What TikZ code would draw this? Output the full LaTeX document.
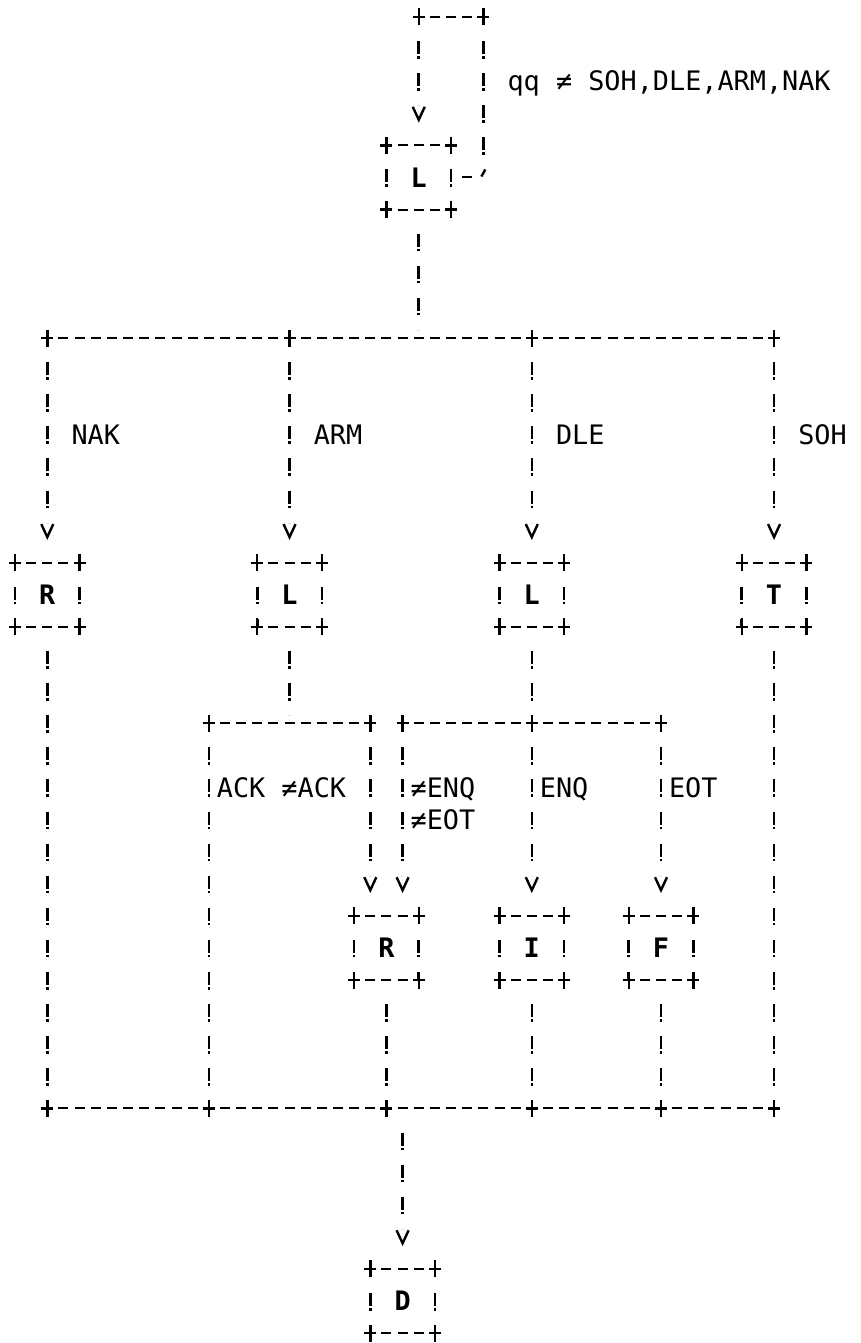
\documentclass[tikz,border=0pt]{standalone}
\usepackage{fontspec}
\newfontfamily\dmono{DejaVu Sans Mono}
\newcommand\lblfont{\dmono\fontsize{26.83pt}{30pt}\selectfont}
\tikzset{
  hline/.style={line width=2pt, dash pattern=on 10pt off 6.15pt, dash phase=10pt, shorten <=5pt},
  vline/.style={line width=2.6pt, dash pattern=on 13pt off 2pt on 2.5pt off 14.6pt, dash phase=17.5pt, shorten <=9.5pt},
  tobus/.style={vline, shorten >=8pt},
  arrowline/.style={vline, shorten >=40.1pt},
  box/.style={minimum width=64.6pt, minimum height=64.2pt, inner sep=0pt, outer sep=0pt, font=\lblfont\bfseries},
  lbl/.style={anchor=west, inner sep=0pt, outer sep=0pt, font=\lblfont, text height=19.5pt, text depth=0pt},
  plusmark/.pic={\draw[line width=2.4pt] (-6pt,0pt) -- (6pt,0pt) (0pt,-8.5pt) -- (0pt,8.5pt);},
  vhead/.pic={\draw[line width=2.4pt, line join=miter] (-6pt,6.5pt) -- (0pt,-6.5pt) -- (6pt,6.5pt);},
  tick/.style={line width=2.4pt}
}
\newcommand\asciiframe[1]{%
  \draw[hline] (#1.north west) -- (#1.north east);
  \draw[hline] (#1.south west) -- (#1.south east);
  \draw[vline] (#1.north west) -- (#1.south west);
  \draw[vline] (#1.north east) -- (#1.south east);
  \pic at (#1.north west) {plusmark};
  \pic at (#1.north east) {plusmark};
  \pic at (#1.south west) {plusmark};
  \pic at (#1.south east) {plusmark};
}
\begin{document}
\begin{tikzpicture}
\useasboundingbox (0pt,0pt) rectangle (861pt,-1343pt);
\begin{scope}[shift={(15pt,-17pt)}, x=16.15pt, y=-32.1pt]
% boxes
\node[box] (L1) at (25,5) {L};
\node[box] (R1) at (2,18) {R};
\node[box] (L2) at (17,18) {L};
\node[box] (L3) at (32,18) {L};
\node[box] (T1) at (47,18) {T};
\node[box] (R2) at (23,29) {R};
\node[box] (I1) at (32,29) {I};
\node[box] (F1) at (40,29) {F};
\node[box] (D1) at (24,40) {D};
\foreach \b in {L1,R1,L2,L3,T1,R2,I1,F1,D1}{\asciiframe{\b}}

% loop at the top
\coordinate (lp3) at (25,0);
\coordinate (lp2) at (29,0);
\coordinate (lp1) at (29,5);
\draw[hline] (lp3) -- (lp2);
\draw[arrowline] (lp3) -- (L1.north);
\draw[tobus] (lp2) -- (lp1);
\draw[hline, shorten >=11.15pt] (L1.east) -- (lp1);
\draw[tick] ([xshift=-2pt,yshift=1pt]lp1) -- ([xshift=2pt,yshift=8pt]lp1);
\pic at (lp3) {plusmark};
\pic at (lp2) {plusmark};
\node[lbl] (cond) at (30.5,2) {qq ≠ SOH,DLE,ARM,NAK};

% first bus
\coordinate (j0) at (25,10);
\coordinate (bn) at (2,10);
\coordinate (ba) at (17,10);
\coordinate (bd) at (32,10);
\coordinate (bs) at (47,10);
\draw[hline] (bn) -- (bs);
\draw[tobus] (L1.south) -- (j0);
\draw[arrowline] (bn) -- (R1.north);
\draw[arrowline] (ba) -- (L2.north);
\draw[arrowline] (bd) -- (L3.north);
\draw[arrowline] (bs) -- (T1.north);
\foreach \p in {bn,ba,bd,bs} \pic at (\p) {plusmark};
\node[lbl] (lnak) at (3.5,13) {NAK};
\node[lbl] (larm) at (18.5,13) {ARM};
\node[lbl] (ldle) at (33.5,13) {DLE};
\node[lbl] (lsoh) at (48.5,13) {SOH};

% second level buses
\coordinate (ca) at (12,22);
\coordinate (cc) at (17,22);
\coordinate (cb) at (22,22);
\coordinate (cd) at (24,22);
\coordinate (ce) at (32,22);
\coordinate (cf) at (40,22);
\draw[hline] (ca) -- (cb);
\draw[hline] (cd) -- (cf);
\draw[tobus] (L2.south) -- (cc);
\draw[tobus] (L3.south) -- (ce);
\foreach \p in {ca,cb,cd,ce,cf} \pic at (\p) {plusmark};
\draw[arrowline] (cb) -- (cb |- R2.north);
\draw[arrowline] (cd) -- (cd |- R2.north);
\draw[arrowline] (ce) -- (I1.north);
\draw[arrowline] (cf) -- (F1.north);
\node[lbl] (lack) at (12.5,24) {ACK};
\node[lbl] (lnack) at (16.5,24) {≠ACK};
\node[lbl] (lnenq) at (24.5,24) {≠ENQ};
\node[lbl] (lneot) at (24.5,25) {≠EOT};
\node[lbl] (lenq) at (32.5,24) {ENQ};
\node[lbl] (leot) at (40.5,24) {EOT};

% bottom bus
\coordinate (dn) at (2,34);
\coordinate (da) at (12,34);
\coordinate (dr) at (23,34);
\coordinate (dd) at (24,34);
\coordinate (di) at (32,34);
\coordinate (df) at (40,34);
\coordinate (ds) at (47,34);
\draw[hline] (dn) -- (ds);
\draw[tobus] (R1.south) -- (dn);
\draw[tobus] (T1.south) -- (ds);
\draw[tobus] (ca) -- (da);
\draw[tobus] (R2.south) -- (dr);
\draw[tobus] (I1.south) -- (di);
\draw[tobus] (F1.south) -- (df);
\foreach \p in {dn,da,dr,di,df,ds} \pic at (\p) {plusmark};
\draw[arrowline] (dd) -- (D1.north);

% arrow heads
\foreach \c/\r in {25/3,2/16,17/16,32/16,47/16,22/27,24/27,32/27,40/27,24/38}
  \pic at (\c,\r) {vhead};
\end{scope}
\end{tikzpicture}
\end{document}
